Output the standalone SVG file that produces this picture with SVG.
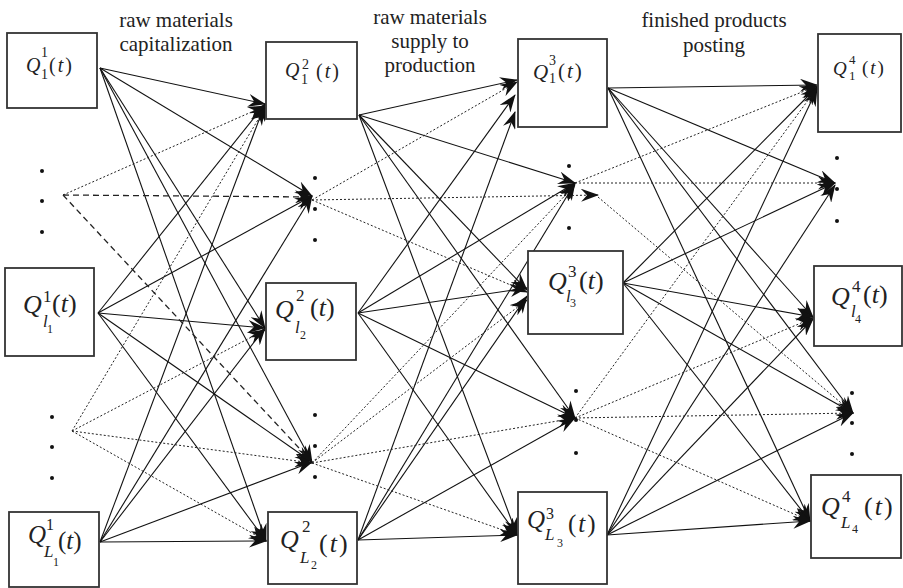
<svg xmlns="http://www.w3.org/2000/svg" width="903" height="588" viewBox="0 0 903 588">
<style>
.box{fill:#fff;stroke:#333;stroke-width:1.8}
.lbl{fill:#222}
.it{font-style:italic}
.ttl{font-size:21px;fill:#222;text-anchor:middle}
.s{stroke:#111;stroke-width:1.1;fill:none;marker-end:url(#ah)}
.d{stroke:#222;stroke-width:1;fill:none;stroke-dasharray:2 2;marker-end:url(#ah)}
.m{stroke:#222;stroke-width:1.3;fill:none;stroke-dasharray:6 4;marker-end:url(#ah)}
.dot{fill:#111}
</style>
<defs>
<marker id="ah" viewBox="0 0 18 13" refX="17" refY="6.5" markerWidth="18" markerHeight="13" markerUnits="userSpaceOnUse" orient="auto">
<path d="M0,0 L18,6.5 L0,13 L6,6.5 Z" fill="#111"/>
</marker>
</defs>
<rect width="903" height="588" fill="#fff"/>

<g font-family="'Liberation Serif', 'Times New Roman', 'DejaVu Serif', serif">
<!-- column titles -->
<g id="title1"><text class="ttl" x="176" y="27">raw materials</text><text class="ttl" x="176" y="51">capitalization</text></g>
<g id="title2"><text class="ttl" x="430" y="24">raw materials</text><text class="ttl" x="430" y="48">supply to</text><text class="ttl" x="430" y="72">production</text></g>
<g id="title3"><text class="ttl" x="714" y="27">finished products</text><text class="ttl" x="714" y="52">posting</text></g>
</g>

<!-- connectors -->
<g id="connectors">
<!-- stage 1 -->
<path class="s" d="M100,68 L265,104"/>
<path class="s" d="M100,68 L312,196"/>
<path class="s" d="M100,68 L265,328"/>
<path class="s" d="M100,68 L312,462"/>
<path class="s" d="M100,68 L266,541"/>
<path class="s" d="M98,313 L265,104"/>
<path class="s" d="M98,313 L312,196"/>
<path class="s" d="M98,313 L265,328"/>
<path class="s" d="M98,313 L312,462"/>
<path class="s" d="M98,313 L266,541"/>
<path class="s" d="M100,542 L265,104"/>
<path class="s" d="M100,542 L312,196"/>
<path class="s" d="M100,542 L265,328"/>
<path class="s" d="M100,542 L312,462"/>
<path class="s" d="M100,542 L266,541"/>
<path class="d" d="M63,195 L265,106"/>
<path class="m" d="M63,195 L312,197"/>
<path class="m" d="M63,195 L312,462"/>
<path class="d" d="M72,431 L265,108"/>
<path class="d" d="M72,431 L265,330"/>
<path class="d" d="M72,431 L312,463"/>
<path class="d" d="M72,431 L266,541"/>
<!-- stage 2 -->
<path class="s" d="M359,115 L517,80"/>
<path class="s" d="M359,115 L575,183"/>
<path class="s" d="M359,115 L527,290"/>
<path class="s" d="M359,115 L575,418"/>
<path class="s" d="M359,115 L517,535"/>
<path class="s" d="M358,313 L515,95"/>
<path class="s" d="M358,313 L575,183"/>
<path class="s" d="M358,313 L527,288"/>
<path class="s" d="M358,313 L575,418"/>
<path class="s" d="M358,313 L517,535"/>
<path class="s" d="M358,540 L515,112"/>
<path class="s" d="M358,540 L575,183"/>
<path class="s" d="M358,540 L527,296"/>
<path class="s" d="M358,540 L575,418"/>
<path class="s" d="M358,540 L517,535"/>
<path class="d" d="M312,200 L517,82"/>
<path class="d" d="M312,200 L598,195"/>
<path class="d" d="M312,200 L527,292"/>
<path class="d" d="M312,463 L575,185"/>
<path class="d" d="M312,463 L527,300"/>
<path class="d" d="M312,463 L575,418"/>
<path class="d" d="M312,463 L517,535"/>
<!-- stage 3 -->
<path class="s" d="M608,88 L817,85"/>
<path class="s" d="M608,88 L835,183"/>
<path class="s" d="M608,88 L813,317"/>
<path class="s" d="M608,88 L853,413"/>
<path class="s" d="M608,88 L810,521"/>
<path class="s" d="M623,283 L817,87"/>
<path class="s" d="M623,283 L835,183"/>
<path class="s" d="M623,283 L813,317"/>
<path class="s" d="M623,283 L853,413"/>
<path class="s" d="M623,283 L810,521"/>
<path class="s" d="M607,535 L817,89"/>
<path class="s" d="M607,535 L835,185"/>
<path class="s" d="M607,535 L813,319"/>
<path class="s" d="M607,535 L853,413"/>
<path class="s" d="M607,535 L810,521"/>
<path class="d" d="M575,183 L817,86"/>
<path class="d" d="M575,183 L835,183"/>
<path class="d" d="M598,197 L853,413"/>
<path class="d" d="M575,418 L817,88"/>
<path class="d" d="M575,418 L813,318"/>
<path class="d" d="M575,418 L853,413"/>
<path class="d" d="M575,418 L810,521"/>
</g>

<!-- ellipsis dots -->
<g id="dots">
<circle class="dot" cx="42" cy="171" r="2"/><circle class="dot" cx="42" cy="201" r="2"/><circle class="dot" cx="42" cy="232" r="2"/>
<circle class="dot" cx="52" cy="417" r="2"/><circle class="dot" cx="52" cy="447" r="2"/><circle class="dot" cx="52" cy="478" r="2"/>
<circle class="dot" cx="315" cy="178" r="2"/><circle class="dot" cx="315" cy="209" r="2"/><circle class="dot" cx="315" cy="240" r="2"/>
<circle class="dot" cx="315" cy="415" r="2"/><circle class="dot" cx="315" cy="446" r="2"/><circle class="dot" cx="315" cy="477" r="2"/>
<circle class="dot" cx="569" cy="166" r="2"/><circle class="dot" cx="569" cy="197" r="2"/><circle class="dot" cx="569" cy="228" r="2"/>
<circle class="dot" cx="576" cy="391" r="2"/><circle class="dot" cx="576" cy="420" r="2"/><circle class="dot" cx="576" cy="453" r="2"/>
<circle class="dot" cx="837" cy="158" r="2"/><circle class="dot" cx="837" cy="189" r="2"/><circle class="dot" cx="837" cy="221" r="2"/>
<circle class="dot" cx="852" cy="393" r="2"/><circle class="dot" cx="852" cy="423" r="2"/><circle class="dot" cx="852" cy="454" r="2"/>
</g>

<g font-family="'Liberation Serif', 'Times New Roman', 'DejaVu Serif', serif">
<!-- column 1 -->
<g id="q1-1"><rect class="box" x="7" y="33" width="90" height="75"/>
<text class="lbl" font-size="20"><tspan class="it" x="26" y="72">Q</tspan><tspan font-size="14" x="41" y="57">1</tspan><tspan font-size="14" x="41" y="79">1</tspan><tspan x="49" y="72" letter-spacing="2">(<tspan class="it">t</tspan>)</tspan></text></g>
<g id="q1-l1"><rect class="box" x="5" y="268" width="89" height="88"/>
<text class="lbl" font-size="26"><tspan class="it" x="23" y="313">Q</tspan><tspan font-size="17" x="43" y="302">1</tspan><tspan class="it" font-size="17" x="43" y="327">l</tspan><tspan font-size="12" x="47" y="333">1</tspan><tspan x="52" y="312">(<tspan class="it">t</tspan>)</tspan></text></g>
<g id="q1-L1"><rect class="box" x="9" y="512" width="90" height="75"/>
<text class="lbl" font-size="25"><tspan class="it" x="28" y="543">Q</tspan><tspan font-size="16" x="46" y="530">1</tspan><tspan class="it" font-size="17" x="44" y="557">L</tspan><tspan font-size="12" x="53" y="566">1</tspan><tspan x="58" y="549">(<tspan class="it">t</tspan>)</tspan></text></g>

<!-- column 2 -->
<g id="q2-1"><rect class="box" x="266" y="42" width="91" height="77"/>
<text class="lbl" font-size="20"><tspan class="it" x="285" y="77">Q</tspan><tspan font-size="14" x="302" y="69">2</tspan><tspan font-size="14" x="301" y="84">1</tspan><tspan x="316" y="78" letter-spacing="2">(<tspan class="it">t</tspan>)</tspan></text></g>
<g id="q2-l2"><rect class="box" x="266" y="283" width="90" height="77"/>
<text class="lbl" font-size="26"><tspan class="it" x="275" y="318">Q</tspan><tspan font-size="17" x="296" y="301">2</tspan><tspan class="it" font-size="17" x="295" y="333">l</tspan><tspan font-size="12" x="300" y="339">2</tspan><tspan x="310" y="316">(<tspan class="it">t</tspan>)</tspan></text></g>
<g id="q2-L2"><rect class="box" x="268" y="512" width="89" height="72"/>
<text class="lbl" font-size="26"><tspan class="it" x="280" y="548">Q</tspan><tspan font-size="17" x="302" y="532">2</tspan><tspan class="it" font-size="17" x="300" y="563">L</tspan><tspan font-size="12" x="311" y="569">2</tspan><tspan x="319" y="552" letter-spacing="2">(<tspan class="it">t</tspan>)</tspan></text></g>

<!-- column 3 -->
<g id="q3-1"><rect class="box" x="518" y="39" width="89" height="88"/>
<text class="lbl" font-size="21"><tspan class="it" x="533" y="79">Q</tspan><tspan font-size="14" x="549" y="65">3</tspan><tspan font-size="14" x="549" y="83">1</tspan><tspan x="558" y="78" letter-spacing="2">(<tspan class="it">t</tspan>)</tspan></text></g>
<g id="q3-l3"><rect class="box" x="528" y="251" width="95" height="83"/>
<text class="lbl" font-size="26"><tspan class="it" x="548" y="290">Q</tspan><tspan font-size="17" x="568" y="277">3</tspan><tspan class="it" font-size="17" x="566" y="302">l</tspan><tspan font-size="12" x="570" y="307">3</tspan><tspan x="579" y="289">(<tspan class="it">t</tspan>)</tspan></text></g>
<g id="q3-L3"><rect class="box" x="518" y="492" width="89" height="92"/>
<text class="lbl" font-size="25"><tspan class="it" x="527" y="528">Q</tspan><tspan font-size="16" x="546" y="519">3</tspan><tspan class="it" font-size="17" x="545" y="540">L</tspan><tspan font-size="12" x="557" y="547">3</tspan><tspan x="568" y="532" letter-spacing="2">(<tspan class="it">t</tspan>)</tspan></text></g>

<!-- column 4 -->
<g id="q4-1"><rect class="box" x="818" y="34" width="83" height="98"/>
<text class="lbl" font-size="19"><tspan class="it" x="833" y="75">Q</tspan><tspan font-size="13" x="849" y="64">4</tspan><tspan font-size="13" x="849" y="80">1</tspan><tspan x="862" y="74" letter-spacing="2">(<tspan class="it">t</tspan>)</tspan></text></g>
<g id="q4-l4"><rect class="box" x="814" y="266" width="88" height="80"/>
<text class="lbl" font-size="26"><tspan class="it" x="831" y="305">Q</tspan><tspan font-size="17" x="852" y="292">4</tspan><tspan class="it" font-size="17" x="851" y="317">l</tspan><tspan font-size="12" x="855" y="323">4</tspan><tspan x="863" y="303">(<tspan class="it">t</tspan>)</tspan></text></g>
<g id="q4-L4"><rect class="box" x="811" y="475" width="90" height="83"/>
<text class="lbl" font-size="26"><tspan class="it" x="821" y="515">Q</tspan><tspan font-size="17" x="842" y="502">4</tspan><tspan class="it" font-size="17" x="841" y="528">L</tspan><tspan font-size="12" x="852" y="533">4</tspan><tspan x="864" y="515" letter-spacing="2">(<tspan class="it">t</tspan>)</tspan></text></g>
</g>
</svg>
